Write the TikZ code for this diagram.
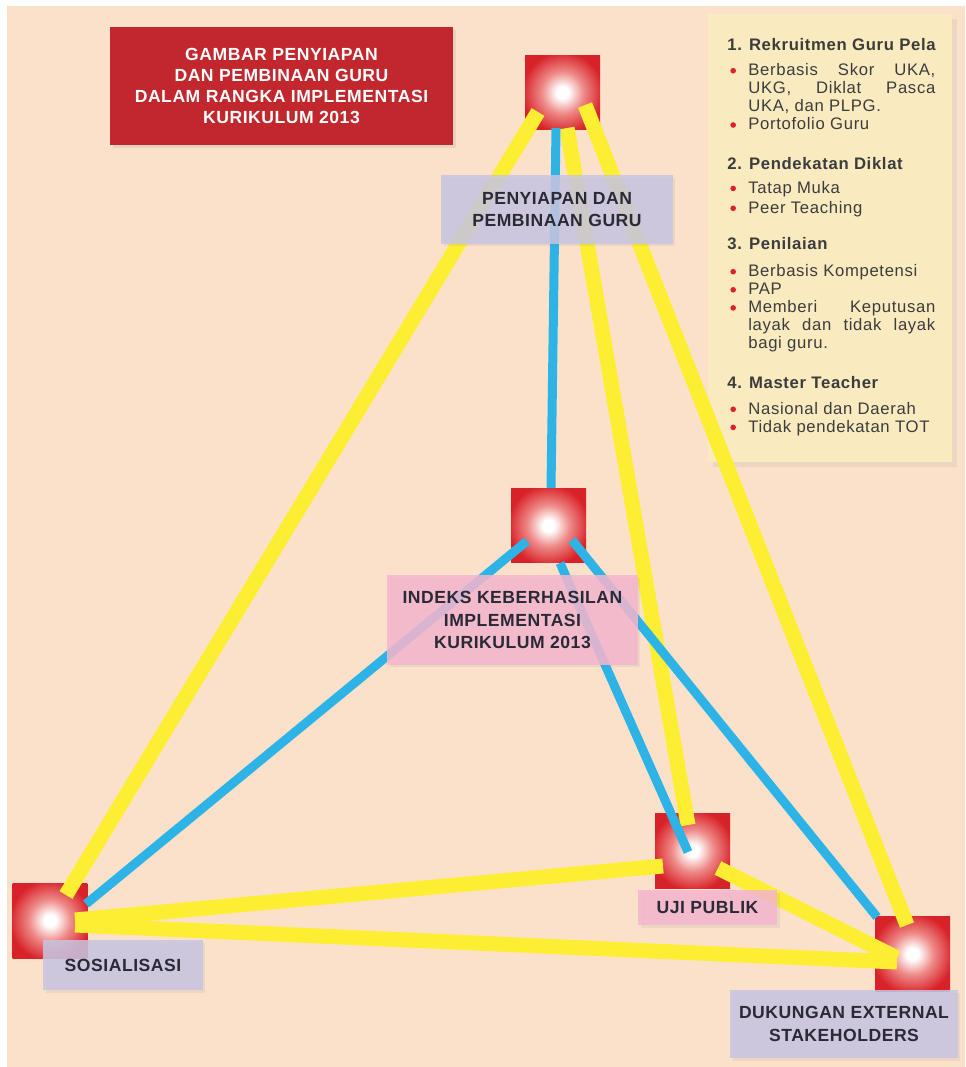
\documentclass[tikz,border=0pt]{standalone}
\usepackage{fontspec}
\setmainfont{Liberation Sans}
\newfontfamily\hurufjudul[LetterSpace=3]{Liberation Sans}
\newfontfamily\hurufpanel[LetterSpace=4]{Liberation Sans}
\usetikzlibrary{shadows}

\definecolor{latarpeach}{HTML}{FCE1CA}
\definecolor{merahjudul}{HTML}{C1272D}
\definecolor{krempanel}{HTML}{F9EAC0}
\definecolor{garkuning}{HTML}{FCEE33}
\definecolor{garbiru}{HTML}{2EB3E6}
\definecolor{labelungu}{HTML}{C8C5E2}
\definecolor{labelpink}{HTML}{F5B6CF}
\definecolor{teksgelap}{HTML}{2A2A36}
\definecolor{tekspanel}{HTML}{3C3C3C}
\definecolor{titikmerah}{HTML}{E0212B}
\definecolor{kilaumerah}{HTML}{EE8A88}
\definecolor{kotakmerah}{HTML}{D82229}
\definecolor{kotaktepi}{HTML}{BA141B}

\pgfdeclareradialshading{kilau}{\pgfpoint{0bp}{0bp}}{color(0bp)=(white); color(4bp)=(white); color(14bp)=(kilaumerah); color(27bp)=(kotakmerah); color(48bp)=(kotakmerah); color(72bp)=(kotaktepi)}

\newcommand{\butir}{\makebox[0.42cm][l]{\hspace{0.06cm}\tikz[baseline=-0.55ex]\fill[titikmerah] (0,0) circle (1.6pt);}}
\newcommand{\sisip}{\hspace*{0.42cm}}
\newcommand{\rata}[1]{\makebox[3.74cm][s]{#1}}

\begin{document}
\begin{tikzpicture}[x=0.02cm, y=-0.02cm,
  kotak/.style={minimum size=1.5cm, inner sep=0pt, shading=kilau},
  garis kuning/.style={line width=0.3cm, draw=garkuning},
  garis biru/.style={line width=0.18cm, draw=garbiru},
  label kotak/.style={fill opacity=0.85, text opacity=1, inner sep=0pt, align=center,
    text=teksgelap, font=\fontsize{10}{12.8}\selectfont\hurufjudul\bfseries,
    drop shadow={opacity=0.12, shadow xshift=0.05cm, shadow yshift=-0.05cm}},
  label ungu/.style={label kotak, fill=labelungu},
  label pink/.style={label kotak, fill=labelpink}]

  \useasboundingbox (0,0) rectangle (965,1067);
  \fill[white] (0,0) rectangle (965,1067);
  \fill[latarpeach] (7,6) rectangle (965,1067);

  \node[fill=merahjudul, minimum width=6.86cm, minimum height=2.36cm, inner sep=0pt,
    align=center, text=white, font=\fontsize{10}{11.8}\selectfont\hurufjudul\bfseries,
    drop shadow={opacity=0.15, shadow xshift=0.06cm, shadow yshift=-0.06cm}]
    (judul) at (281.5,86) {GAMBAR PENYIAPAN\\DAN PEMBINAAN GURU\\DALAM RANGKA IMPLEMENTASI\\KURIKULUM 2013};

  \node[fill=krempanel, minimum width=4.88cm, minimum height=8.96cm, inner sep=0pt,
    drop shadow={opacity=0.12, shadow xshift=0.1cm, shadow yshift=-0.1cm}]
    (panel) at (830,238) {};
  \node[anchor=north west, inner sep=0pt, align=left, text=tekspanel,
    font=\fontsize{9.5}{10.3}\selectfont\hurufpanel] (isi) at (727,38) {%
    \textbf{1. Rekruitmen Guru Pela}\\[4pt]
    \butir\rata{Berbasis Skor UKA,}\\
    \sisip\rata{UKG, Diklat Pasca}\\
    \sisip UKA, dan PLPG.\\
    \butir Portofolio Guru\\[12pt]
    \textbf{2. Pendekatan Diklat}\\[3.5pt]
    \butir Tatap Muka\\[1pt]
    \butir Peer Teaching\\[10.5pt]
    \textbf{3. Penilaian}\\[5pt]
    \butir Berbasis Kompetensi\\
    \butir PAP\\
    \butir\rata{Memberi Keputusan}\\
    \sisip\rata{layak dan tidak layak}\\
    \sisip bagi guru.\\[12pt]
    \textbf{4. Master Teacher}\\[4.5pt]
    \butir Nasional dan Daerah\\
    \butir Tidak pendekatan TOT};

  \node[kotak] (pg) at (562.5,92.5) {};
  \node[kotak] (ik) at (548.5,525.5) {};
  \node[kotak] (up) at (692.5,850.5) {};
  \node[kotak] (so) at (50,920.5) {};
  \node[kotak] (de) at (912.5,954) {};

  \draw[garis kuning] ([shift={(-24.5,19.5)}]pg.center) -- ([shift={(16,-25.5)}]so.center);
  \draw[garis kuning] ([shift={(22.5,12.5)}]pg.center) -- ([shift={(-5.5,-29)}]de.center);
  \draw[garis kuning] ([shift={(4.5,35.5)}]pg.center) -- ([shift={(-4.5,-25.5)}]up.center);
  \draw[garis kuning] ([shift={(25,-0.5)}]so.center) -- ([shift={(-29.5,15.5)}]up.center);
  \draw[garis kuning] ([shift={(25,4.5)}]so.center) -- ([shift={(-15.5,8)}]de.center);
  \draw[garis kuning] ([shift={(25.5,17.5)}]up.center) -- ([shift={(-15.5,4)}]de.center);

  \draw[garis biru] ([shift={(-6.5,35.5)}]pg.center) -- ([shift={(2.5,-37.5)}]ik.center);
  \draw[garis biru] ([shift={(-21.5,15.5)}]ik.center) -- ([shift={(36,-16.5)}]so.center);
  \draw[garis biru] ([shift={(11.5,37.5)}]ik.center) -- ([shift={(-4.5,1.5)}]up.center);
  \draw[garis biru] ([shift={(23.5,14.5)}]ik.center) -- ([shift={(-35.5,-37)}]de.center);

  \node[label ungu, minimum width=4.64cm, minimum height=1.38cm] (lpg) at (557,209.5) {PENYIAPAN DAN\\PEMBINAAN GURU};
  \node[label pink, minimum width=5.02cm, minimum height=1.8cm] (lik) at (512.5,620) {INDEKS KEBERHASILAN\\IMPLEMENTASI\\KURIKULUM 2013};
  \node[label pink, minimum width=2.78cm, minimum height=0.7cm] (lup) at (707.5,907.5) {UJI PUBLIK};
  \node[label ungu, minimum width=3.2cm, minimum height=1cm] (lso) at (123,965) {SOSIALISASI};
  \node[label ungu, minimum width=4.56cm, minimum height=1.36cm] (lde) at (844,1024) {DUKUNGAN EXTERNAL\\STAKEHOLDERS};
\end{tikzpicture}
\end{document}
